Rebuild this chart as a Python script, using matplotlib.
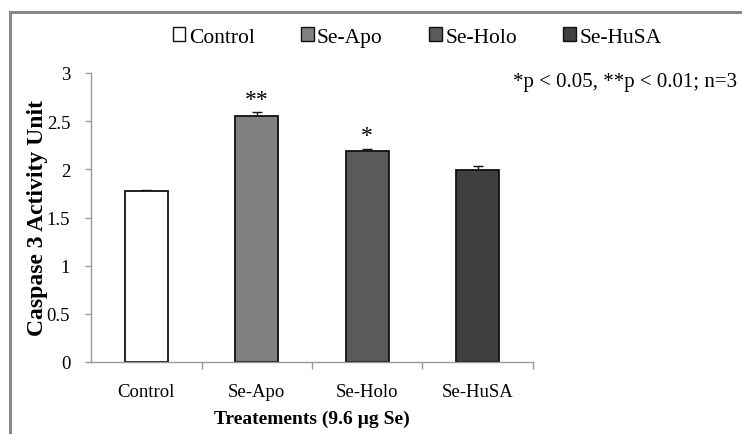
import matplotlib.pyplot as plt
from matplotlib.patches import Rectangle
from matplotlib.lines import Line2D

treatments = ['Control', 'Se-Apo', 'Se-Holo', 'Se-HuSA']
activity = [1.78, 2.55, 2.19, 1.99]
errors = [0.01, 0.04, 0.02, 0.04]
stars = ['', '**', '*', '']
bar_colors = ['#ffffff', '#808080', '#5a5a5a', '#404040']

plt.rcParams['font.family'] = ['Liberation Serif', 'DejaVu Serif']

fig = plt.figure(figsize=(7.42, 4.35), dpi=100)

# grey frame along the top and left edges
fig.add_artist(Line2D([10 / 742, 1], [1 - 13 / 435] * 2, color='#888888', lw=2.2))
fig.add_artist(Line2D([10 / 742] * 2, [0, 1 - 13 / 435], color='#888888', lw=2.2))

ax = fig.add_axes([91 / 742, 1 - 363 / 435, 442 / 742, 289 / 435])
x = range(len(treatments))
# only the upper half of each error bar shows above the bar
ax.errorbar(x, activity, yerr=[[0] * 4, errors], fmt='none', ecolor='#111111',
            elinewidth=1, capsize=3.5, capthick=1, zorder=1)
ax.bar(x, activity, width=0.39, color=bar_colors, edgecolor='#111111', linewidth=1.3, zorder=2)

for i, s in enumerate(stars):
    if s:
        ax.text(i, activity[i] + errors[i] + 0.03, s, ha='center', va='bottom', fontsize=17)

ax.set_xlim(-0.5, 3.5)
ax.set_ylim(0, 3)
ax.set_yticks([0, 0.5, 1, 1.5, 2, 2.5, 3])
ax.set_yticklabels(['0', '0.5', '1', '1.5', '2', '2.5', '3'])
ax.set_xticks(list(x))
ax.set_xticklabels(treatments)
ax.set_xticks([0.5, 1.5, 2.5, 3.5], minor=True)
ax.tick_params(axis='x', which='major', length=0, pad=15, labelsize=13.5)
ax.tick_params(axis='x', which='minor', length=5, color='#999999', width=1)
ax.tick_params(axis='y', length=4, color='#999999', width=1, labelsize=13.5, pad=11)

for side in ['top', 'right']:
    ax.spines[side].set_visible(False)
for side in ['left', 'bottom']:
    ax.spines[side].set_color('#999999')
    ax.spines[side].set_linewidth(1)

ax.set_ylabel('Caspase 3 Activity Unit', fontsize=17, fontweight='bold', labelpad=-1)
ax.set_xlabel('Treatements (9.6 µg Se)', fontsize=14, fontweight='bold', labelpad=7)

fig.text(737 / 742, 1 - 83 / 435, '*p < 0.05, **p < 0.01; n=3', ha='right', va='center', fontsize=15)

handles = [Rectangle((0, 0), 1, 1, facecolor=c, edgecolor='#111111', linewidth=1) for c in bar_colors]
fig.legend(handles, treatments, loc='center', bbox_to_anchor=(417 / 742, 1 - 38 / 435), ncol=4,
           frameon=False, fontsize=15.5, handlelength=0.6, handleheight=0.6,
           handletextpad=0.15, columnspacing=2.15)

fig.savefig('out.png', dpi=100)
